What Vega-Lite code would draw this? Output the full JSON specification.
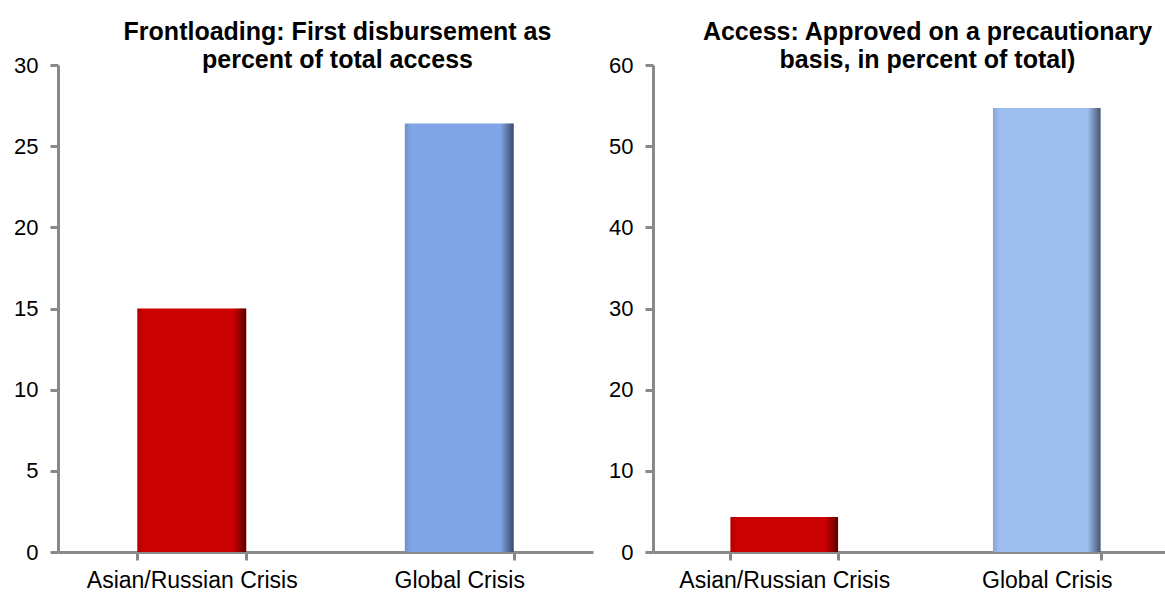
{
  "$schema": "https://vega.github.io/schema/vega-lite/v6.json",
  "padding": {"left": 13, "top": 20, "right": 0, "bottom": 0},
  "background": "white",
  "datasets": {
    "frontloading": [
      {"crisis": "Asian/Russian Crisis", "value": 15.0},
      {"crisis": "Global Crisis", "value": 26.4}
    ],
    "access": [
      {"crisis": "Asian/Russian Crisis", "value": 4.3},
      {"crisis": "Global Crisis", "value": 54.7}
    ]
  },
  "config": {
    "view": {"stroke": null},
    "font": "Liberation Sans",
    "axis": {
      "domainColor": "#898989",
      "domainWidth": 3,
      "tickColor": "#898989",
      "tickWidth": 3,
      "tickSize": 8,
      "labelColor": "#000000",
      "labelFont": "Liberation Sans",
      "labelFontSize": 22,
      "labelLimit": 0,
      "grid": false,
      "title": null
    },
    "title": {
      "font": "Liberation Sans",
      "fontSize": 25,
      "fontWeight": "bold",
      "color": "#000000",
      "lineHeight": 28,
      "anchor": "middle",
      "dx": 12,
      "offset": -19
    }
  },
  "spacing": 15,
  "hconcat": [
    {
      "data": {"name": "frontloading"},
      "width": 535,
      "height": 487,
      "title": {"text": ["Frontloading: First disbursement as", "percent of total access"]},
      "encoding": {
        "x": {
          "field": "crisis",
          "type": "nominal",
          "sort": null,
          "scale": {"paddingInner": 0.593, "paddingOuter": 0.2965},
          "axis": {"labelAngle": 0, "tickBand": "extent", "labelPadding": 9, "labelFontSize": 23}
        },
        "y": {
          "field": "value",
          "type": "quantitative",
          "scale": {"domain": [0, 30], "nice": false},
          "axis": {"values": [0, 5, 10, 15, 20, 25, 30], "labelPadding": 12}
        }
      },
      "layer": [
        {
          "mark": {"type": "bar"},
          "encoding": {
            "color": {
              "field": "crisis",
              "type": "nominal",
              "scale": {"domain": ["Asian/Russian Crisis", "Global Crisis"], "range": ["#cc0000", "#7fa5e6"]},
              "legend": null
            }
          }
        },
        {
          "mark": {
            "type": "bar",
            "fill": {
              "gradient": "linear", "x1": 0, "y1": 0, "x2": 1, "y2": 0,
              "stops": [
                {"offset": 0, "color": "rgba(0,0,0,0.12)"},
                {"offset": 0.06, "color": "rgba(0,0,0,0)"},
                {"offset": 0.88, "color": "rgba(0,0,0,0)"},
                {"offset": 1, "color": "rgba(0,0,0,0.55)"}
              ]
            }
          }
        }
      ]
    },
    {
      "data": {"name": "access"},
      "width": 525,
      "height": 487,
      "title": {"text": ["Access: Approved on a precautionary", "basis, in percent of total)"]},
      "encoding": {
        "x": {
          "field": "crisis",
          "type": "nominal",
          "sort": null,
          "scale": {"paddingInner": 0.59, "paddingOuter": 0.295},
          "axis": {"labelAngle": 0, "tickBand": "extent", "labelPadding": 9, "labelFontSize": 23}
        },
        "y": {
          "field": "value",
          "type": "quantitative",
          "scale": {"domain": [0, 60], "nice": false},
          "axis": {"values": [0, 10, 20, 30, 40, 50, 60], "labelPadding": 12}
        }
      },
      "layer": [
        {
          "mark": {"type": "bar"},
          "encoding": {
            "color": {
              "field": "crisis",
              "type": "nominal",
              "scale": {"domain": ["Asian/Russian Crisis", "Global Crisis"], "range": ["#cc0000", "#9cbdee"]},
              "legend": null
            }
          }
        },
        {
          "mark": {
            "type": "bar",
            "fill": {
              "gradient": "linear", "x1": 0, "y1": 0, "x2": 1, "y2": 0,
              "stops": [
                {"offset": 0, "color": "rgba(0,0,0,0.12)"},
                {"offset": 0.06, "color": "rgba(0,0,0,0)"},
                {"offset": 0.88, "color": "rgba(0,0,0,0)"},
                {"offset": 1, "color": "rgba(0,0,0,0.55)"}
              ]
            }
          }
        }
      ]
    }
  ],
  "resolve": {"scale": {"color": "independent"}}
}
